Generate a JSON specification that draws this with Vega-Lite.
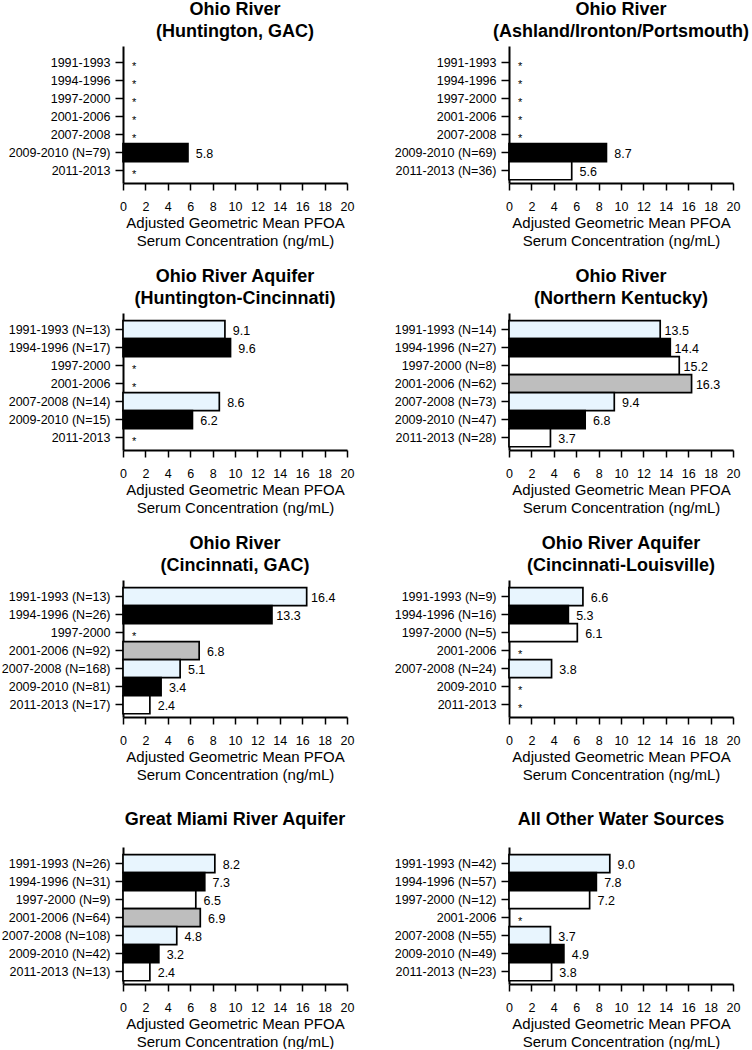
{
  "$schema": "https://vega.github.io/schema/vega-lite/v6.json",
  "padding": {"left": 1, "top": 1, "right": 0, "bottom": 0},
  "background": "white",
  "datasets": {
    "pfoa": [
      {"panel": "p1", "period": "1991-1993", "label": "1991-1993", "value": null},
      {"panel": "p1", "period": "1994-1996", "label": "1994-1996", "value": null},
      {"panel": "p1", "period": "1997-2000", "label": "1997-2000", "value": null},
      {"panel": "p1", "period": "2001-2006", "label": "2001-2006", "value": null},
      {"panel": "p1", "period": "2007-2008", "label": "2007-2008", "value": null},
      {"panel": "p1", "period": "2009-2010", "label": "2009-2010 (N=79)", "value": 5.8},
      {"panel": "p1", "period": "2011-2013", "label": "2011-2013", "value": null},
      {"panel": "p2", "period": "1991-1993", "label": "1991-1993", "value": null},
      {"panel": "p2", "period": "1994-1996", "label": "1994-1996", "value": null},
      {"panel": "p2", "period": "1997-2000", "label": "1997-2000", "value": null},
      {"panel": "p2", "period": "2001-2006", "label": "2001-2006", "value": null},
      {"panel": "p2", "period": "2007-2008", "label": "2007-2008", "value": null},
      {"panel": "p2", "period": "2009-2010", "label": "2009-2010 (N=69)", "value": 8.7},
      {"panel": "p2", "period": "2011-2013", "label": "2011-2013 (N=36)", "value": 5.6},
      {"panel": "p3", "period": "1991-1993", "label": "1991-1993 (N=13)", "value": 9.1},
      {"panel": "p3", "period": "1994-1996", "label": "1994-1996 (N=17)", "value": 9.6},
      {"panel": "p3", "period": "1997-2000", "label": "1997-2000", "value": null},
      {"panel": "p3", "period": "2001-2006", "label": "2001-2006", "value": null},
      {"panel": "p3", "period": "2007-2008", "label": "2007-2008 (N=14)", "value": 8.6},
      {"panel": "p3", "period": "2009-2010", "label": "2009-2010 (N=15)", "value": 6.2},
      {"panel": "p3", "period": "2011-2013", "label": "2011-2013", "value": null},
      {"panel": "p4", "period": "1991-1993", "label": "1991-1993 (N=14)", "value": 13.5},
      {"panel": "p4", "period": "1994-1996", "label": "1994-1996 (N=27)", "value": 14.4},
      {"panel": "p4", "period": "1997-2000", "label": "1997-2000 (N=8)", "value": 15.2},
      {"panel": "p4", "period": "2001-2006", "label": "2001-2006 (N=62)", "value": 16.3},
      {"panel": "p4", "period": "2007-2008", "label": "2007-2008 (N=73)", "value": 9.4},
      {"panel": "p4", "period": "2009-2010", "label": "2009-2010 (N=47)", "value": 6.8},
      {"panel": "p4", "period": "2011-2013", "label": "2011-2013 (N=28)", "value": 3.7},
      {"panel": "p5", "period": "1991-1993", "label": "1991-1993 (N=13)", "value": 16.4},
      {"panel": "p5", "period": "1994-1996", "label": "1994-1996 (N=26)", "value": 13.3},
      {"panel": "p5", "period": "1997-2000", "label": "1997-2000", "value": null},
      {"panel": "p5", "period": "2001-2006", "label": "2001-2006 (N=92)", "value": 6.8},
      {"panel": "p5", "period": "2007-2008", "label": "2007-2008 (N=168)", "value": 5.1},
      {"panel": "p5", "period": "2009-2010", "label": "2009-2010 (N=81)", "value": 3.4},
      {"panel": "p5", "period": "2011-2013", "label": "2011-2013 (N=17)", "value": 2.4},
      {"panel": "p6", "period": "1991-1993", "label": "1991-1993 (N=9)", "value": 6.6},
      {"panel": "p6", "period": "1994-1996", "label": "1994-1996 (N=16)", "value": 5.3},
      {"panel": "p6", "period": "1997-2000", "label": "1997-2000 (N=5)", "value": 6.1},
      {"panel": "p6", "period": "2001-2006", "label": "2001-2006", "value": null},
      {"panel": "p6", "period": "2007-2008", "label": "2007-2008 (N=24)", "value": 3.8},
      {"panel": "p6", "period": "2009-2010", "label": "2009-2010", "value": null},
      {"panel": "p6", "period": "2011-2013", "label": "2011-2013", "value": null},
      {"panel": "p7", "period": "1991-1993", "label": "1991-1993 (N=26)", "value": 8.2},
      {"panel": "p7", "period": "1994-1996", "label": "1994-1996 (N=31)", "value": 7.3},
      {"panel": "p7", "period": "1997-2000", "label": "1997-2000 (N=9)", "value": 6.5},
      {"panel": "p7", "period": "2001-2006", "label": "2001-2006 (N=64)", "value": 6.9},
      {"panel": "p7", "period": "2007-2008", "label": "2007-2008 (N=108)", "value": 4.8},
      {"panel": "p7", "period": "2009-2010", "label": "2009-2010 (N=42)", "value": 3.2},
      {"panel": "p7", "period": "2011-2013", "label": "2011-2013 (N=13)", "value": 2.4},
      {"panel": "p8", "period": "1991-1993", "label": "1991-1993 (N=42)", "value": 9.0},
      {"panel": "p8", "period": "1994-1996", "label": "1994-1996 (N=57)", "value": 7.8},
      {"panel": "p8", "period": "1997-2000", "label": "1997-2000 (N=12)", "value": 7.2},
      {"panel": "p8", "period": "2001-2006", "label": "2001-2006", "value": null},
      {"panel": "p8", "period": "2007-2008", "label": "2007-2008 (N=55)", "value": 3.7},
      {"panel": "p8", "period": "2009-2010", "label": "2009-2010 (N=49)", "value": 4.9},
      {"panel": "p8", "period": "2011-2013", "label": "2011-2013 (N=23)", "value": 3.8}
    ]
  },
  "data": {"name": "pfoa"},
  "columns": 2,
  "bounds": "flush",
  "spacing": {"row": 130, "column": 162},
  "concat": [
    {
      "title": {"text": ["Ohio River", "(Huntington, GAC)"], "offset": 5},
      "transform": [{"filter": "datum.panel == 'p1'"}],
      "width": 224, "height": 137,
      "encoding": {"y": {"field": "label", "type": "nominal", "sort": null, "scale": {"paddingInner": 0, "paddingOuter": 0.3, "align": 0.7}, "axis": {"title": null, "tickSize": 8, "labelPadding": 5}}},
      "layer": [
        {"mark": {"type": "text", "fontSize": 11, "dy": 4}, "encoding": {"x": {"datum": 1, "type": "quantitative", "scale": {"domain": [0, 20]}, "axis": {"title": ["Adjusted Geometric Mean PFOA", "Serum Concentration (ng/mL)"], "values": [0, 2, 4, 6, 8, 10, 12, 14, 16, 18, 20]}}, "text": {"condition": {"test": "datum.value == null", "value": "*"}, "value": ""}}},
        {"mark": {"type": "bar", "stroke": "black", "strokeWidth": 1.7, "height": {"band": 1}}, "encoding": {"x": {"field": "value", "type": "quantitative", "scale": {"domain": [0, 20]}, "axis": {"title": ["Adjusted Geometric Mean PFOA", "Serum Concentration (ng/mL)"], "values": [0, 2, 4, 6, 8, 10, 12, 14, 16, 18, 20]}}, "fill": {"field": "period", "type": "nominal", "legend": null}}},
        {"mark": {"type": "text", "dx": 16.5, "dy": 1}, "encoding": {"x": {"field": "value", "type": "quantitative", "scale": {"domain": [0, 20]}, "axis": {"title": ["Adjusted Geometric Mean PFOA", "Serum Concentration (ng/mL)"], "values": [0, 2, 4, 6, 8, 10, 12, 14, 16, 18, 20]}}, "text": {"field": "value", "type": "quantitative", "format": ".1f"}}}
      ]
    },
    {
      "title": {"text": ["Ohio River", "(Ashland/Ironton/Portsmouth)"], "offset": 5},
      "transform": [{"filter": "datum.panel == 'p2'"}],
      "width": 224, "height": 137,
      "encoding": {"y": {"field": "label", "type": "nominal", "sort": null, "scale": {"paddingInner": 0, "paddingOuter": 0.3, "align": 0.7}, "axis": {"title": null, "tickSize": 8, "labelPadding": 5}}},
      "layer": [
        {"mark": {"type": "text", "fontSize": 11, "dy": 4}, "encoding": {"x": {"datum": 1, "type": "quantitative", "scale": {"domain": [0, 20]}, "axis": {"title": ["Adjusted Geometric Mean PFOA", "Serum Concentration (ng/mL)"], "values": [0, 2, 4, 6, 8, 10, 12, 14, 16, 18, 20]}}, "text": {"condition": {"test": "datum.value == null", "value": "*"}, "value": ""}}},
        {"mark": {"type": "bar", "stroke": "black", "strokeWidth": 1.7, "height": {"band": 1}}, "encoding": {"x": {"field": "value", "type": "quantitative", "scale": {"domain": [0, 20]}, "axis": {"title": ["Adjusted Geometric Mean PFOA", "Serum Concentration (ng/mL)"], "values": [0, 2, 4, 6, 8, 10, 12, 14, 16, 18, 20]}}, "fill": {"field": "period", "type": "nominal", "legend": null}}},
        {"mark": {"type": "text", "dx": 16.5, "dy": 1}, "encoding": {"x": {"field": "value", "type": "quantitative", "scale": {"domain": [0, 20]}, "axis": {"title": ["Adjusted Geometric Mean PFOA", "Serum Concentration (ng/mL)"], "values": [0, 2, 4, 6, 8, 10, 12, 14, 16, 18, 20]}}, "text": {"field": "value", "type": "quantitative", "format": ".1f"}}}
      ]
    },
    {
      "title": {"text": ["Ohio River Aquifer", "(Huntington-Cincinnati)"], "offset": 5},
      "transform": [{"filter": "datum.panel == 'p3'"}],
      "width": 224, "height": 137,
      "encoding": {"y": {"field": "label", "type": "nominal", "sort": null, "scale": {"paddingInner": 0, "paddingOuter": 0.3, "align": 0.7}, "axis": {"title": null, "tickSize": 8, "labelPadding": 5}}},
      "layer": [
        {"mark": {"type": "text", "fontSize": 11, "dy": 4}, "encoding": {"x": {"datum": 1, "type": "quantitative", "scale": {"domain": [0, 20]}, "axis": {"title": ["Adjusted Geometric Mean PFOA", "Serum Concentration (ng/mL)"], "values": [0, 2, 4, 6, 8, 10, 12, 14, 16, 18, 20]}}, "text": {"condition": {"test": "datum.value == null", "value": "*"}, "value": ""}}},
        {"mark": {"type": "bar", "stroke": "black", "strokeWidth": 1.7, "height": {"band": 1}}, "encoding": {"x": {"field": "value", "type": "quantitative", "scale": {"domain": [0, 20]}, "axis": {"title": ["Adjusted Geometric Mean PFOA", "Serum Concentration (ng/mL)"], "values": [0, 2, 4, 6, 8, 10, 12, 14, 16, 18, 20]}}, "fill": {"field": "period", "type": "nominal", "legend": null}}},
        {"mark": {"type": "text", "dx": 16.5, "dy": 1}, "encoding": {"x": {"field": "value", "type": "quantitative", "scale": {"domain": [0, 20]}, "axis": {"title": ["Adjusted Geometric Mean PFOA", "Serum Concentration (ng/mL)"], "values": [0, 2, 4, 6, 8, 10, 12, 14, 16, 18, 20]}}, "text": {"field": "value", "type": "quantitative", "format": ".1f"}}}
      ]
    },
    {
      "title": {"text": ["Ohio River", "(Northern Kentucky)"], "offset": 5},
      "transform": [{"filter": "datum.panel == 'p4'"}],
      "width": 224, "height": 137,
      "encoding": {"y": {"field": "label", "type": "nominal", "sort": null, "scale": {"paddingInner": 0, "paddingOuter": 0.3, "align": 0.7}, "axis": {"title": null, "tickSize": 8, "labelPadding": 5}}},
      "layer": [
        {"mark": {"type": "text", "fontSize": 11, "dy": 4}, "encoding": {"x": {"datum": 1, "type": "quantitative", "scale": {"domain": [0, 20]}, "axis": {"title": ["Adjusted Geometric Mean PFOA", "Serum Concentration (ng/mL)"], "values": [0, 2, 4, 6, 8, 10, 12, 14, 16, 18, 20]}}, "text": {"condition": {"test": "datum.value == null", "value": "*"}, "value": ""}}},
        {"mark": {"type": "bar", "stroke": "black", "strokeWidth": 1.7, "height": {"band": 1}}, "encoding": {"x": {"field": "value", "type": "quantitative", "scale": {"domain": [0, 20]}, "axis": {"title": ["Adjusted Geometric Mean PFOA", "Serum Concentration (ng/mL)"], "values": [0, 2, 4, 6, 8, 10, 12, 14, 16, 18, 20]}}, "fill": {"field": "period", "type": "nominal", "legend": null}}},
        {"mark": {"type": "text", "dx": 16.5, "dy": 1}, "encoding": {"x": {"field": "value", "type": "quantitative", "scale": {"domain": [0, 20]}, "axis": {"title": ["Adjusted Geometric Mean PFOA", "Serum Concentration (ng/mL)"], "values": [0, 2, 4, 6, 8, 10, 12, 14, 16, 18, 20]}}, "text": {"field": "value", "type": "quantitative", "format": ".1f"}}}
      ]
    },
    {
      "title": {"text": ["Ohio River", "(Cincinnati, GAC)"], "offset": 5},
      "transform": [{"filter": "datum.panel == 'p5'"}],
      "width": 224, "height": 137,
      "encoding": {"y": {"field": "label", "type": "nominal", "sort": null, "scale": {"paddingInner": 0, "paddingOuter": 0.3, "align": 0.7}, "axis": {"title": null, "tickSize": 8, "labelPadding": 5}}},
      "layer": [
        {"mark": {"type": "text", "fontSize": 11, "dy": 4}, "encoding": {"x": {"datum": 1, "type": "quantitative", "scale": {"domain": [0, 20]}, "axis": {"title": ["Adjusted Geometric Mean PFOA", "Serum Concentration (ng/mL)"], "values": [0, 2, 4, 6, 8, 10, 12, 14, 16, 18, 20]}}, "text": {"condition": {"test": "datum.value == null", "value": "*"}, "value": ""}}},
        {"mark": {"type": "bar", "stroke": "black", "strokeWidth": 1.7, "height": {"band": 1}}, "encoding": {"x": {"field": "value", "type": "quantitative", "scale": {"domain": [0, 20]}, "axis": {"title": ["Adjusted Geometric Mean PFOA", "Serum Concentration (ng/mL)"], "values": [0, 2, 4, 6, 8, 10, 12, 14, 16, 18, 20]}}, "fill": {"field": "period", "type": "nominal", "legend": null}}},
        {"mark": {"type": "text", "dx": 16.5, "dy": 1}, "encoding": {"x": {"field": "value", "type": "quantitative", "scale": {"domain": [0, 20]}, "axis": {"title": ["Adjusted Geometric Mean PFOA", "Serum Concentration (ng/mL)"], "values": [0, 2, 4, 6, 8, 10, 12, 14, 16, 18, 20]}}, "text": {"field": "value", "type": "quantitative", "format": ".1f"}}}
      ]
    },
    {
      "title": {"text": ["Ohio River Aquifer", "(Cincinnati-Louisville)"], "offset": 5},
      "transform": [{"filter": "datum.panel == 'p6'"}],
      "width": 224, "height": 137,
      "encoding": {"y": {"field": "label", "type": "nominal", "sort": null, "scale": {"paddingInner": 0, "paddingOuter": 0.3, "align": 0.7}, "axis": {"title": null, "tickSize": 8, "labelPadding": 5}}},
      "layer": [
        {"mark": {"type": "text", "fontSize": 11, "dy": 4}, "encoding": {"x": {"datum": 1, "type": "quantitative", "scale": {"domain": [0, 20]}, "axis": {"title": ["Adjusted Geometric Mean PFOA", "Serum Concentration (ng/mL)"], "values": [0, 2, 4, 6, 8, 10, 12, 14, 16, 18, 20]}}, "text": {"condition": {"test": "datum.value == null", "value": "*"}, "value": ""}}},
        {"mark": {"type": "bar", "stroke": "black", "strokeWidth": 1.7, "height": {"band": 1}}, "encoding": {"x": {"field": "value", "type": "quantitative", "scale": {"domain": [0, 20]}, "axis": {"title": ["Adjusted Geometric Mean PFOA", "Serum Concentration (ng/mL)"], "values": [0, 2, 4, 6, 8, 10, 12, 14, 16, 18, 20]}}, "fill": {"field": "period", "type": "nominal", "legend": null}}},
        {"mark": {"type": "text", "dx": 16.5, "dy": 1}, "encoding": {"x": {"field": "value", "type": "quantitative", "scale": {"domain": [0, 20]}, "axis": {"title": ["Adjusted Geometric Mean PFOA", "Serum Concentration (ng/mL)"], "values": [0, 2, 4, 6, 8, 10, 12, 14, 16, 18, 20]}}, "text": {"field": "value", "type": "quantitative", "format": ".1f"}}}
      ]
    },
    {
      "title": {"text": "Great Miami River Aquifer", "offset": 18},
      "transform": [{"filter": "datum.panel == 'p7'"}],
      "width": 224, "height": 137,
      "encoding": {"y": {"field": "label", "type": "nominal", "sort": null, "scale": {"paddingInner": 0, "paddingOuter": 0.3, "align": 0.7}, "axis": {"title": null, "tickSize": 8, "labelPadding": 5}}},
      "layer": [
        {"mark": {"type": "text", "fontSize": 11, "dy": 4}, "encoding": {"x": {"datum": 1, "type": "quantitative", "scale": {"domain": [0, 20]}, "axis": {"title": ["Adjusted Geometric Mean PFOA", "Serum Concentration (ng/mL)"], "values": [0, 2, 4, 6, 8, 10, 12, 14, 16, 18, 20]}}, "text": {"condition": {"test": "datum.value == null", "value": "*"}, "value": ""}}},
        {"mark": {"type": "bar", "stroke": "black", "strokeWidth": 1.7, "height": {"band": 1}}, "encoding": {"x": {"field": "value", "type": "quantitative", "scale": {"domain": [0, 20]}, "axis": {"title": ["Adjusted Geometric Mean PFOA", "Serum Concentration (ng/mL)"], "values": [0, 2, 4, 6, 8, 10, 12, 14, 16, 18, 20]}}, "fill": {"field": "period", "type": "nominal", "legend": null}}},
        {"mark": {"type": "text", "dx": 16.5, "dy": 1}, "encoding": {"x": {"field": "value", "type": "quantitative", "scale": {"domain": [0, 20]}, "axis": {"title": ["Adjusted Geometric Mean PFOA", "Serum Concentration (ng/mL)"], "values": [0, 2, 4, 6, 8, 10, 12, 14, 16, 18, 20]}}, "text": {"field": "value", "type": "quantitative", "format": ".1f"}}}
      ]
    },
    {
      "title": {"text": "All Other Water Sources", "offset": 18},
      "transform": [{"filter": "datum.panel == 'p8'"}],
      "width": 224, "height": 137,
      "encoding": {"y": {"field": "label", "type": "nominal", "sort": null, "scale": {"paddingInner": 0, "paddingOuter": 0.3, "align": 0.7}, "axis": {"title": null, "tickSize": 8, "labelPadding": 5}}},
      "layer": [
        {"mark": {"type": "text", "fontSize": 11, "dy": 4}, "encoding": {"x": {"datum": 1, "type": "quantitative", "scale": {"domain": [0, 20]}, "axis": {"title": ["Adjusted Geometric Mean PFOA", "Serum Concentration (ng/mL)"], "values": [0, 2, 4, 6, 8, 10, 12, 14, 16, 18, 20]}}, "text": {"condition": {"test": "datum.value == null", "value": "*"}, "value": ""}}},
        {"mark": {"type": "bar", "stroke": "black", "strokeWidth": 1.7, "height": {"band": 1}}, "encoding": {"x": {"field": "value", "type": "quantitative", "scale": {"domain": [0, 20]}, "axis": {"title": ["Adjusted Geometric Mean PFOA", "Serum Concentration (ng/mL)"], "values": [0, 2, 4, 6, 8, 10, 12, 14, 16, 18, 20]}}, "fill": {"field": "period", "type": "nominal", "legend": null}}},
        {"mark": {"type": "text", "dx": 16.5, "dy": 1}, "encoding": {"x": {"field": "value", "type": "quantitative", "scale": {"domain": [0, 20]}, "axis": {"title": ["Adjusted Geometric Mean PFOA", "Serum Concentration (ng/mL)"], "values": [0, 2, 4, 6, 8, 10, 12, 14, 16, 18, 20]}}, "text": {"field": "value", "type": "quantitative", "format": ".1f"}}}
      ]
    }
  ],
  "config": {
    "font": "Liberation Sans",
    "view": {"stroke": null},
    "text": {"font": "Liberation Sans", "fontSize": 12.5, "color": "black", "align": "center", "baseline": "middle"},
    "bar": {"stroke": "black"},
    "range": {"ordinal": ["#E8F5FE", "#000000", "#FFFFFF", "#BEBEBE", "#E8F5FE", "#000000", "#FFFFFF"], "category": ["#E8F5FE", "#000000", "#FFFFFF", "#BEBEBE", "#E8F5FE", "#000000", "#FFFFFF"]},
    "title": {"font": "Liberation Sans", "fontSize": 18, "fontWeight": "bold", "lineHeight": 22, "frame": "group", "anchor": "middle", "color": "black"},
    "axis": {"grid": false, "domainColor": "black", "domainWidth": 2, "tickColor": "black", "tickWidth": 1.5, "labelColor": "black", "labelFont": "Liberation Sans", "labelFontSize": 12.5, "titleFont": "Liberation Sans", "titleFontSize": 15, "titleFontWeight": "normal", "titleColor": "black"},
    "axisX": {"tickSize": 7, "labelPadding": 10, "labelFlush": false, "labelOverlap": false, "titlePadding": 3, "titleLineHeight": 17.5},
    "axisY": {"tickSize": 8, "labelPadding": 5}
  },
  "resolve": {"scale": {"y": "independent"}}
}
